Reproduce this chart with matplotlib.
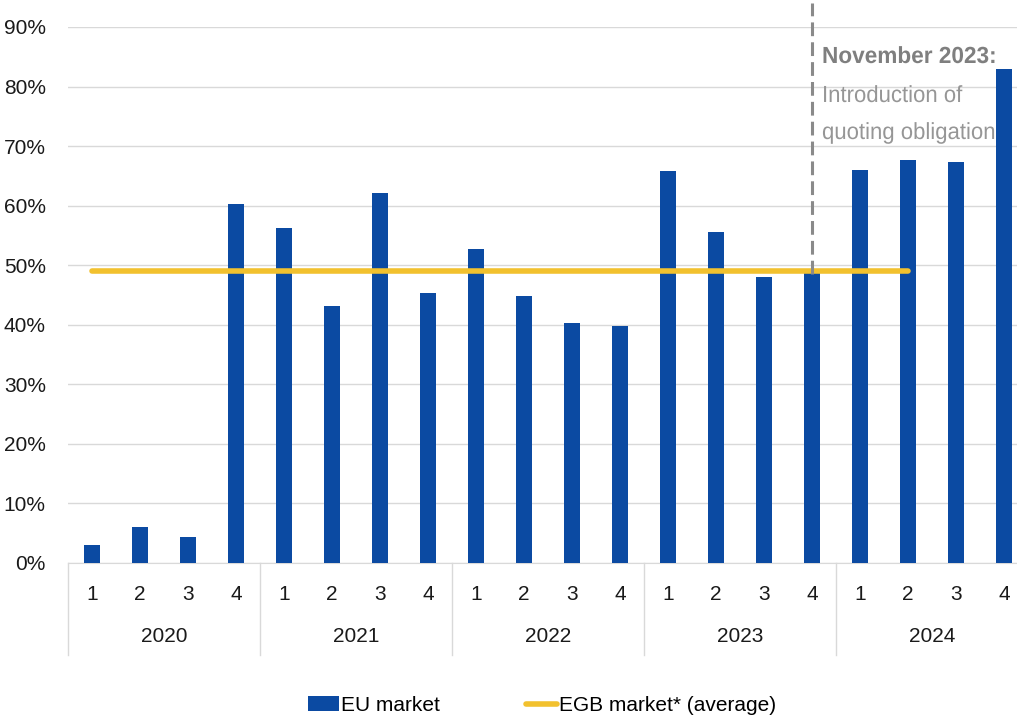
import numpy as np
import matplotlib as mpl
mpl.use("Agg")
import matplotlib.pyplot as plt
import matplotlib.transforms as mtransforms
from matplotlib.lines import Line2D
from matplotlib.patches import Patch, PathPatch
from matplotlib.textpath import TextPath
from matplotlib.font_manager import FontProperties

plt.rcParams['font.family'] = ['Liberation Sans', 'DejaVu Sans']

years = ['2020', '2021', '2022', '2023', '2024']
quarters = ['1', '2', '3', '4']
eu_market = [3.0, 6.0, 4.3, 60.2,
             56.3, 43.2, 62.1, 45.3,
             52.8, 44.8, 40.3, 39.8,
             65.8, 55.6, 48.0, 48.8,
             66.0, 67.6, 67.3, 83.0]
egb_average = 49.0
egb_span = (0, 17)       # from 2020 Q1 to 2024 Q2
event_index = 15         # 2023 Q4
yticks = [0, 10, 20, 30, 40, 50, 60, 70, 80, 90]
note_lines = ['November 2023:', 'Introduction of', 'quoting obligations']

blue = '#0b4aa2'
yellow = '#f2c12e'
grid = '#d9d9d9'

fig = plt.figure(figsize=(10.17, 7.17), dpi=100)
ax = fig.add_axes([68 / 1017, 154 / 717, 960 / 1017, 536 / 717])

x = np.arange(len(eu_market))
ax.bar(x, eu_market, width=0.34, color=blue, zorder=3)
ax.plot([egb_span[0], egb_span[1]], [egb_average, egb_average], color=yellow,
        lw=4, solid_capstyle='round', zorder=4)

ax.set_xlim(-0.5, len(eu_market) - 0.5)
ax.set_ylim(0, 90)
ax.set_yticks(yticks)
ax.set_yticklabels([f'{v}%' for v in yticks])
ax.yaxis.grid(True, color=grid, lw=1)
ax.set_axisbelow(True)
for s in ['top', 'right', 'left']:
    ax.spines[s].set_visible(False)
ax.spines['bottom'].set_color(grid)
ax.tick_params(axis='y', length=0, labelsize=15, pad=16, labelcolor='#1a1a1a')

ax.set_xticks(x)
ax.set_xticklabels(quarters * len(years))
ax.tick_params(axis='x', length=0, labelsize=15, pad=16, labelcolor='#1a1a1a')

trans = mtransforms.blended_transform_factory(ax.transData, ax.transAxes)
for i in range(len(years) + 1):
    ax.plot([i * 4 - 0.5] * 2, [0, -0.172], transform=trans, color=grid,
            lw=1, clip_on=False)
for i, yr in enumerate(years):
    ax.text(i * 4 + 1.5, -0.137, yr, transform=trans, ha='center', va='center',
            fontsize=15, color='#1a1a1a')

# event marker
ax.plot([event_index, event_index], [48.5, 94], color='#8a8a8a', lw=2.2,
        ls=(0, (4.5, 2)), clip_on=False, zorder=5)

# condensed note text (drawn as squeezed text paths, under the bars)
note_x = 822
note_base = [63, 102, 139]          # baselines, pixels from top
note_squeeze = [0.97, 0.95, 0.95]
note_props = [FontProperties(family='Liberation Sans', weight='bold'),
              FontProperties(family='Liberation Sans')]
note_colors = ['#7f7f7f', '#969696']
for i, line in enumerate(note_lines):
    k = 0 if i == 0 else 1
    tp = TextPath((0, 0), line, size=23.3, prop=note_props[k])
    tr = mtransforms.Affine2D().scale(note_squeeze[i], 1.0).translate(
        note_x, 717 - note_base[i])
    ax.add_patch(PathPatch(tp, transform=tr, facecolor=note_colors[k],
                           edgecolor='none', zorder=2.5))

handles = [Patch(facecolor=blue, edgecolor='none'),
           Line2D([0], [0], color=yellow, lw=4, solid_capstyle='round')]
fig.legend(handles, ['EU market', 'EGB market* (average)'], loc='center',
           bbox_to_anchor=(0.533, 0.016), ncol=2, frameon=False, fontsize=15,
           handlelength=1.5, handletextpad=0.1, columnspacing=4.1)

fig.savefig('out.png', dpi=100)
